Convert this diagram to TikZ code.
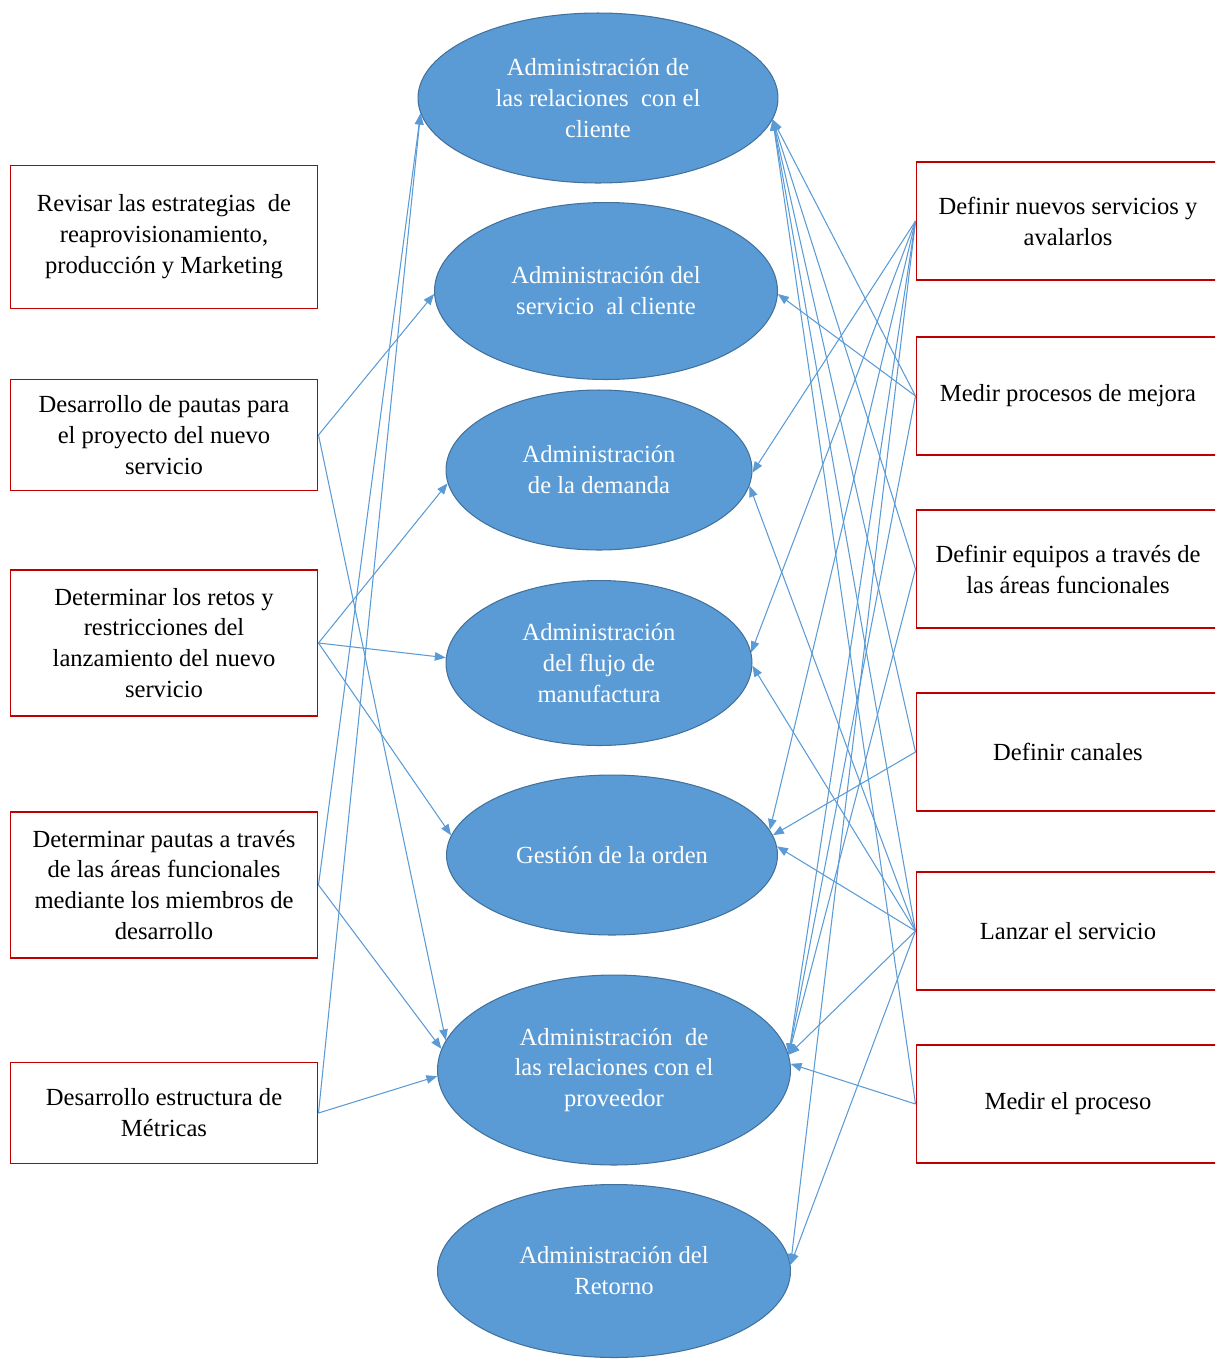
\documentclass[tikz,border=0pt]{standalone}
\usepackage{fontspec}
\setmainfont{Liberation Serif}
\usetikzlibrary{shapes.geometric,arrows.meta,positioning}
\definecolor{procblue}{RGB}{91,155,213}
\definecolor{procedge}{RGB}{65,113,156}
\definecolor{taskred}{RGB}{192,0,0}
\tikzset{
        textnode/.style={align=center,inner sep=0pt,font=\fontsize{14}{17.6}\selectfont},
        % Process ellipses
        node_process/.style={textnode, ellipse, fill=procblue, draw=procedge, line width=0.6pt, text=white},
        % Left task boxes
        node_task_left/.style={textnode, rectangle, draw=taskred, line width=0.6pt, minimum width=6.16cm, text=black},
        % Right task boxes
        node_task_right/.style={textnode, rectangle, draw=taskred, line width=0.6pt, minimum width=6.08cm, minimum height=2.36cm, text=black},
        % Connectors
        conn/.style={draw=procblue, line width=0.6pt, -{Triangle[length=0.22cm,width=0.17cm]}}
}
\begin{document}
\begin{tikzpicture}[x=0.02cm, y=-0.02cm]
    \clip (0,0) rectangle (1215,1360);
    % processes
    \node[node_process, minimum width=7.2cm, minimum height=3.4cm] (e1) at (598,98) {Administración de\\las relaciones\ \ con el\\cliente};
    \node[node_process, minimum width=6.86cm, minimum height=3.54cm] (e2) at (606,291) {Administración del\\servicio\ \ al cliente};
    \node[node_process, minimum width=6.12cm, minimum height=3.2cm] (e3) at (599,470) {Administración\\de la demanda};
    \node[node_process, minimum width=6.12cm, minimum height=3.3cm] (e4) at (599,663) {Administración\\del flujo de\\manufactura};
    \node[node_process, minimum width=6.62cm, minimum height=3.2cm] (e5) at (612,855) {Gestión de la orden};
    \node[node_process, minimum width=7.06cm, minimum height=3.8cm] (e6) at (614,1070) {Administración\ \ de\\las relaciones con el\\proveedor};
    \node[node_process, minimum width=7.06cm, minimum height=3.46cm] (e7) at (614,1271) {Administración del\\Retorno};
    % left boxes
    \node[node_task_left, minimum height=2.86cm] (l1) at (164,237) {Revisar las estrategias\ \ de\\reaprovisionamiento,\\producción y Marketing};
    \node[node_task_left, minimum height=2.22cm] (l2) at (164,435) {Desarrollo de pautas para\\el proyecto del nuevo\\servicio};
    \node[node_task_left, minimum height=2.92cm] (l3) at (164,643) {Determinar los retos y\\restricciones del\\lanzamiento del nuevo\\servicio};
    \node[node_task_left, minimum height=2.92cm] (l4) at (164,885) {Determinar pautas a través\\de las áreas funcionales\\mediante los miembros de\\desarrollo};
    \node[node_task_left, minimum height=2.02cm] (l5) at (164,1113) {Desarrollo estructura de\\Métricas};
    % right boxes
    \node[node_task_right] (r1) at (1068,221) {Definir nuevos servicios y\\avalarlos};
    \node[node_task_right] (r2) at (1068,396) {Medir procesos de mejora};
    \node[node_task_right] (r3) at (1068,569) {Definir equipos a través de\\las áreas funcionales};
    \node[node_task_right] (r4) at (1068,752) {Definir canales};
    \node[node_task_right] (r5) at (1068,931) {Lanzar el servicio};
    \node[node_task_right] (r6) at (1068,1104) {Medir el proceso};
    % left connectors
    \draw[conn] (l2.east) -- (e2.181);
    \draw[conn] (l2.east) -- (e6.170);
    \draw[conn] (l3.east) -- (e3.185);
    \draw[conn] (l3.east) -- (e4.178);
    \draw[conn] (l3.east) -- (e5.173);
    \draw[conn] (l4.east) -- (e1.185);
    \draw[conn] (l4.east) -- (e6.173);
    \draw[conn] (l5.east) -- (e1.185);
    \draw[conn] (l5.east) -- (e6.182);
    % right connectors
    \foreach \t in {e3.-1, e4.4, e5.9, e6.5, e7.2}
        \draw[conn] (r1.west) -- (\t);
    \foreach \t in {e1.-7, e2.-1, e6.5}
        \draw[conn] (r2.west) -- (\t);
    \foreach \t in {e1.-7, e6.5}
        \draw[conn] (r3.west) -- (\t);
    \foreach \t in {e1.-7, e5.7}
        \draw[conn] (r4.west) -- (\t);
    \foreach \t in {e1.-7, e3.-6, e4.-1, e5.3, e6.5, e7.2}
        \draw[conn] (r5.west) -- (\t);
    \foreach \t in {e1.-7, e6.2}
        \draw[conn] (r6.west) -- (\t);
\end{tikzpicture}
\end{document}
